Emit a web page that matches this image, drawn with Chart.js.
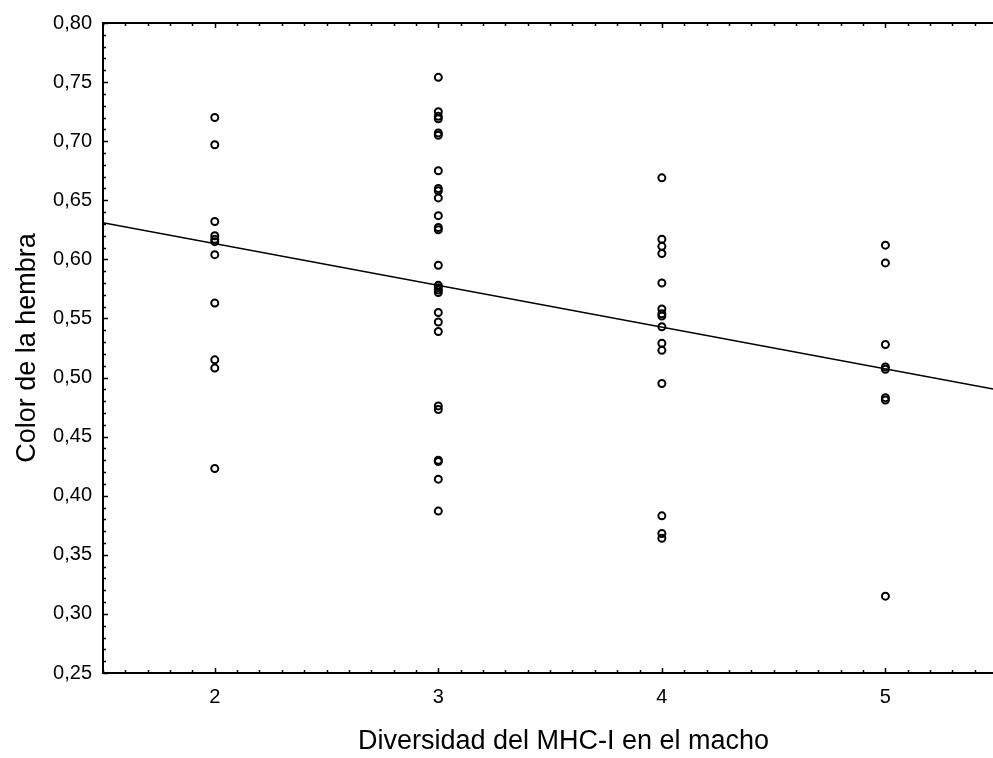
<!DOCTYPE html>
<html>
<head>
<meta charset="utf-8">
<script src="https://cdn.jsdelivr.net/npm/chart.js@4.4.1/dist/chart.umd.min.js"></script>
<style>
  html, body { margin: 0; padding: 0; background: #fff; overflow: hidden; }
  #wrap { width: 1030px; height: 758px; }
</style>
</head>
<body>
<div id="wrap"><canvas id="c" width="1030" height="758"></canvas></div>
<script>
// Female colour score grouped by male MHC-I diversity
const colorDiv2 = [0.720, 0.697, 0.632, 0.620, 0.617, 0.615, 0.604, 0.563, 0.515, 0.508, 0.423];
const colorDiv3 = [0.754, 0.725, 0.721, 0.719, 0.707, 0.705, 0.675, 0.660, 0.658, 0.652, 0.637,
                   0.627, 0.625, 0.595, 0.578, 0.576, 0.574, 0.572, 0.555, 0.547, 0.539,
                   0.476, 0.473, 0.430, 0.429, 0.414, 0.387];
const colorDiv4 = [0.669, 0.617, 0.611, 0.605, 0.580, 0.558, 0.554, 0.552, 0.543, 0.529,
                   0.523, 0.495, 0.383, 0.368, 0.364];
const colorDiv5 = [0.612, 0.597, 0.528, 0.509, 0.507, 0.483, 0.481, 0.315];

// Least-squares line end points
const fitX = [1.5, 5.62];
const fitY = [0.631, 0.4854];

const xTicks = [2, 3, 4, 5];
const yTicks = [0.25, 0.30, 0.35, 0.40, 0.45, 0.50, 0.55, 0.60, 0.65, 0.70, 0.75, 0.80];

const groups = [[2, colorDiv2], [3, colorDiv3], [4, colorDiv4], [5, colorDiv5]];
const scatter = [];
groups.forEach(([d, vals]) => vals.forEach(v => scatter.push({ x: d, y: v })));

const FONT = "'Liberation Sans', Arial, sans-serif";

// Frame round the plot with inward major and minor tick marks
const framePlugin = {
  id: 'frame',
  afterDraw(chart) {
    const { ctx, chartArea: a, scales: { x, y } } = chart;
    ctx.save();
    ctx.strokeStyle = '#000';
    ctx.lineWidth = 2;
    ctx.strokeRect(a.left, a.top, a.right - a.left, a.bottom - a.top);
    ctx.lineWidth = 1.5;
    ctx.beginPath();
    // y: every 0.01, major every 0.05
    for (let i = 25; i <= 80; i++) {
      const py = Math.round(y.getPixelForValue(i / 100)) + 0.5;
      const len = (i % 5 === 0) ? 5 : 3;
      ctx.moveTo(a.left, py); ctx.lineTo(a.left + len, py);
      ctx.moveTo(a.right, py); ctx.lineTo(a.right - len, py);
    }
    // x: every 0.1, major at integers
    for (let i = 15; i <= 56; i++) {
      const px = Math.round(x.getPixelForValue(i / 10)) + 0.5;
      const len = (i % 10 === 0) ? 5 : 3;
      ctx.moveTo(px, a.bottom); ctx.lineTo(px, a.bottom - len);
      ctx.moveTo(px, a.top); ctx.lineTo(px, a.top + len);
    }
    ctx.stroke();
    ctx.restore();
  }
};

new Chart(document.getElementById('c'), {
  type: 'scatter',
  data: {
    datasets: [
      {
        type: 'line',
        data: fitX.map((v, i) => ({ x: v, y: fitY[i] })),
        borderColor: '#000',
        borderWidth: 1.5,
        pointRadius: 0,
        fill: false
      },
      {
        data: scatter,
        pointStyle: 'circle',
        pointRadius: 3.5,
        borderWidth: 2,
        pointBorderColor: '#000',
        pointBackgroundColor: 'rgba(255,255,255,0)'
      }
    ]
  },
  options: {
    responsive: false,
    devicePixelRatio: 1,
    animation: false,
    layout: { padding: { top: 20, right: 3, left: 0, bottom: 0 } },
    plugins: { legend: { display: false }, tooltip: { enabled: false } },
    scales: {
      x: {
        type: 'linear',
        min: 1.5,
        max: 5.62,
        grid: { display: false, drawTicks: false },
        border: { display: false },
        afterBuildTicks: s => { s.ticks = xTicks.map(v => ({ value: v })); },
        afterFit: s => { s.height = 85; },
        ticks: { padding: 12, color: '#000', font: { family: FONT, size: 20 }, callback: v => String(v) },
        title: {
          display: true,
          text: 'Diversidad del MHC-I en el macho',
          color: '#000',
          font: { family: FONT, size: 27 },
          padding: { top: 0, bottom: 0 }
        }
      },
      y: {
        type: 'linear',
        min: 0.25,
        max: 0.80,
        grid: { display: false, drawTicks: false },
        border: { display: false },
        afterBuildTicks: s => { s.ticks = yTicks.map(v => ({ value: v })); },
        afterFit: s => { s.width = 103; },
        ticks: { padding: 11, color: '#000', font: { family: FONT, size: 20 },
                 callback: v => v.toFixed(2).replace('.', ',') },
        title: {
          display: true,
          text: 'Color de la hembra',
          color: '#000',
          font: { family: FONT, size: 27 },
          padding: { top: 11, bottom: 0 }
        }
      }
    }
  },
  plugins: [framePlugin]
});
</script>
</body>
</html>
